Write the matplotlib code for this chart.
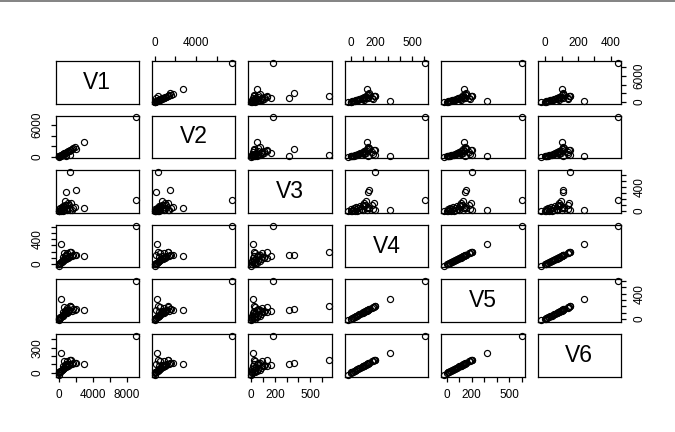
import matplotlib
matplotlib.use("Agg")
from matplotlib import pyplot as plt
from matplotlib.lines import Line2D

V1 = [9050, 1400, 2060, 890, 800, 250, 3000, 1900, 600, 950, 1450, 1700,
      1550, 1250, 1100, 1000, 850, 700, 650, 550, 480, 420, 350, 300,
      220, 160, 110, 60, 30, 10, 1200, 780, 1350, 500]
V2 = [7500, 320, 1500, 130, 700, 200, 2750, 1780, 520, 860, 1300, 1550,
      1400, 1100, 980, 850, 760, 620, 500, 480, 400, 380, 300, 260,
      190, 140, 90, 50, 20, 15, 1050, 690, 1250, 430]
V3 = [185, 657, 360, 320, 170, 12, 45, 75, 35, 95, 130, 60,
      20, 110, 130, 15, 40, 80, 25, 55, 10, 70, 30, 5,
      45, 20, 8, 30, 3, 1, 60, 110, 20, 90]
V4 = [605, 195, 148, 142, 125, 315, 132, 140, 178, 175, 190, 150,
      128, 118, 105, 95, 88, 75, 68, 60, 50, 45, 38, 30,
      22, 15, 10, 5, 0, -25, 135, 100, 195, 110]
V5 = [600, 200, 152, 146, 130, 322, 138, 148, 183, 180, 196, 155,
      133, 122, 110, 100, 92, 80, 72, 63, 54, 48, 40, 33,
      25, 17, 12, 6, 2, -22, 140, 105, 200, 115]
V6 = [445, 150, 112, 108, 96, 240, 102, 110, 140, 138, 148, 118,
      100, 92, 82, 74, 70, 58, 54, 46, 40, 35, 30, 24,
      18, 12, 8, 4, 0, -28, 105, 78, 150, 85]

names = ["V1", "V2", "V3", "V4", "V5", "V6"]
data = [V1, V2, V3, V4, V5, V6]

# Tick positions and the labels R managed to fit
ticks = [[0, 2000, 4000, 6000, 8000],
         [0, 2000, 4000, 6000],
         [0, 100, 200, 300, 400, 500, 600],
         [0, 100, 200, 300, 400, 500, 600],
         [0, 100, 200, 300, 400, 500, 600],
         [0, 100, 200, 300, 400]]
xlabels = [["0", "", "4000", "", "8000"],
           ["0", "", "4000", ""],
           ["0", "", "200", "", "", "500", ""],
           ["0", "", "200", "", "", "500", ""],
           ["0", "", "200", "", "", "500", ""],
           ["0", "", "200", "", "400"]]
ylabels = [["0", "", "", "6000", ""],
           ["0", "", "", "6000"],
           ["0", "", "", "", "400", "", ""],
           ["0", "", "", "", "400", "", ""],
           ["0", "", "", "", "400", "", ""],
           ["0", "", "", "300", ""]]

plt.rcParams['font.family'] = ['Liberation Sans', 'DejaVu Sans']

W, H = 675, 432
fig = plt.figure(figsize=(W / 100, H / 100), dpi=100)

# panel grid in pixels
left0, pitch_x, pw = 55.5, 96.4, 83.5
top0, pitch_y, ph = 61.0, 54.6, 42.5


def limits(v):
    lo, hi = min(v), max(v)
    r = hi - lo
    return lo - 0.04 * r, hi + 0.04 * r


n = len(data)
for i in range(n):
    for j in range(n):
        x0 = left0 + j * pitch_x
        y0 = top0 + i * pitch_y
        ax = fig.add_axes([x0 / W, 1 - (y0 + ph) / H, pw / W, ph / H])
        ax.set_xlim(limits(data[j]))
        ax.set_ylim(limits(data[i]))
        for s in ax.spines.values():
            s.set_linewidth(0.9)
        ax.set_xticks([])
        ax.set_yticks([])

        if i == j:
            ax.text(0.5, 0.5, names[i], transform=ax.transAxes,
                    ha="center", va="center", fontsize=16.5)
        else:
            ax.plot(data[j], data[i], "o", mfc="none", mec="black",
                    ms=4.4, mew=0.85, clip_on=False)

        tick_kw = dict(length=3.8, width=0.9, labelsize=8.5, pad=5.0)
        # top axis
        if i == 0 and j % 2 == 1:
            ax.set_xticks(ticks[j])
            ax.set_xticklabels(xlabels[j])
            ax.tick_params(axis="x", top=True, bottom=False,
                           labeltop=True, labelbottom=False, **tick_kw)
        # bottom axis
        if i == n - 1 and j % 2 == 0:
            ax.set_xticks(ticks[j])
            ax.set_xticklabels(xlabels[j])
            ax.tick_params(axis="x", **tick_kw)
        # left axis
        if j == 0 and i % 2 == 1:
            ax.set_yticks(ticks[i])
            ax.set_yticklabels(ylabels[i], rotation=90, va="center")
            ax.tick_params(axis="y", **tick_kw)
        # right axis
        if j == n - 1 and i % 2 == 0:
            ax.set_yticks(ticks[i])
            ax.set_yticklabels(ylabels[i], rotation=90, va="center")
            ax.tick_params(axis="y", left=False, right=True,
                           labelleft=False, labelright=True, **tick_kw)

# grey border line at the top of the screenshot
fig.add_artist(Line2D([0, 1], [1 - 0.5 / H, 1 - 0.5 / H], color="#6e6e6e",
                      lw=1.2, transform=fig.transFigure))

fig.savefig("out.png", dpi=100)
